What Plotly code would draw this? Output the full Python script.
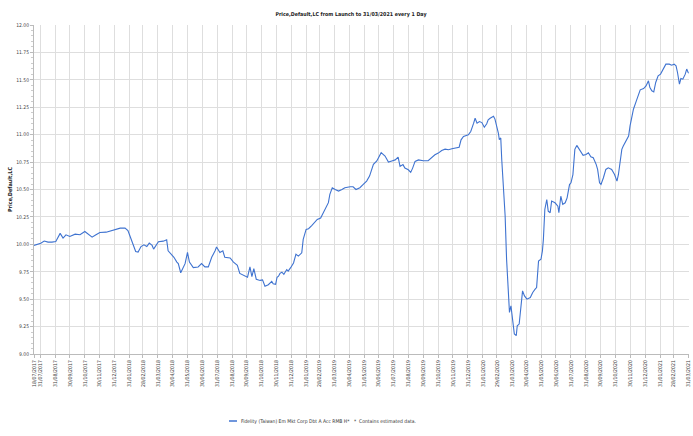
import pandas as pd
import plotly.graph_objects as go

launch_date = "2017-07-18"
series_name = "Fidelity (Taiwan) Em Mkt Corp Dbt A Acc RMB H*"

days_since_launch = [0, 14, 21, 29, 37, 45, 54, 60, 66, 74, 85, 95, 105, 112, 120, 128, 136, 149, 157, 167,
    178, 188, 194, 198, 204, 210, 215, 221, 227, 233, 238, 244, 247, 254, 257, 267, 274, 277, 284, 289,
    295, 298, 303, 308, 312, 317, 321, 329, 339, 346, 353, 360, 367, 374, 377, 384, 390, 394, 405, 412,
    420, 425, 432, 441, 446, 450, 454, 459, 467, 472, 477, 484, 491, 494, 499, 502, 505, 508, 512, 516,
    522, 525, 530, 536, 541, 546, 553, 556, 562, 567, 574, 580, 585, 592, 598, 601, 605, 608, 611, 616,
    622, 629, 636, 642, 653, 659, 665, 673, 680, 687, 693, 701, 708, 717, 725, 732, 739, 746, 752, 756,
    762, 766, 773, 778, 782, 787, 794, 804, 814, 821, 828, 835, 842, 849, 856, 863, 873, 878, 882, 887,
    897, 902, 908, 911, 915, 920, 925, 930, 935, 938, 942, 949, 952, 956, 959, 961, 964, 966, 968, 969,
    973, 976, 979, 981, 982, 985, 987, 989, 992, 996, 998, 1002, 1006, 1009, 1013, 1018, 1025, 1030, 1035, 1038,
    1042, 1047, 1050, 1052, 1055, 1059, 1062, 1066, 1069, 1076, 1082, 1084, 1088, 1092, 1097, 1101, 1106, 1109, 1113, 1117,
    1121, 1124, 1129, 1134, 1140, 1145, 1150, 1155, 1161, 1164, 1168, 1171, 1176, 1181, 1186, 1193, 1199, 1204, 1207, 1210,
    1214, 1217, 1223, 1228, 1231, 1235, 1238, 1244, 1249, 1252, 1259, 1264, 1269, 1272, 1276, 1280, 1284, 1289, 1294, 1299,
    1305, 1312, 1317, 1322, 1326, 1329, 1333, 1336, 1340, 1345, 1348, 1351, 1352]

prices = [9.99, 10.01, 10.03, 10.02, 10.02, 10.026, 10.10, 10.057, 10.087, 10.072, 10.093, 10.087, 10.117, 10.096, 10.065, 10.087, 10.108, 10.111, 10.123, 10.138,
    10.148, 10.148, 10.126, 10.078, 10.011, 9.935, 9.929, 9.98, 9.995, 9.98, 10.011, 9.99, 9.956, 10.011, 10.024, 10.029, 10.041, 9.941, 9.912, 9.882,
    9.838, 9.824, 9.741, 9.794, 9.824, 9.926, 9.838, 9.788, 9.794, 9.824, 9.794, 9.794, 9.882, 9.941, 9.976, 9.926, 9.941, 9.882, 9.876, 9.838,
    9.809, 9.735, 9.721, 9.70, 9.794, 9.706, 9.779, 9.682, 9.671, 9.676, 9.618, 9.632, 9.662, 9.64, 9.635, 9.70, 9.71, 9.735, 9.746, 9.726,
    9.77, 9.756, 9.787, 9.83, 9.91, 9.893, 9.923, 10.045, 10.136, 10.142, 10.173, 10.203, 10.227, 10.24, 10.288, 10.318, 10.35, 10.38, 10.455, 10.516,
    10.50, 10.486, 10.50, 10.516, 10.525, 10.525, 10.50, 10.516, 10.546, 10.577, 10.622, 10.729, 10.76, 10.836, 10.805, 10.75, 10.76, 10.77, 10.795, 10.71,
    10.727, 10.695, 10.68, 10.656, 10.695, 10.756, 10.77, 10.762, 10.762, 10.786, 10.817, 10.832, 10.856, 10.868, 10.862, 10.871, 10.877, 10.886, 10.953, 10.983,
    10.998, 11.029, 11.105, 11.15, 11.105, 11.12, 11.11, 11.068, 11.10, 11.135, 11.15, 11.167, 11.142, 11.076, 11.015, 10.955, 10.97, 10.773, 10.606, 10.59,
    10.26, 9.864, 9.59, 9.485, 9.379, 9.44, 9.348, 9.258, 9.182, 9.167, 9.258, 9.273, 9.439, 9.576, 9.53, 9.50, 9.515, 9.561, 9.591, 9.606,
    9.848, 9.864, 9.939, 10.045, 10.318, 10.409, 10.303, 10.288, 10.394, 10.379, 10.348, 10.288, 10.439, 10.364, 10.379, 10.424, 10.545, 10.561, 10.636, 10.866,
    10.902, 10.881, 10.835, 10.811, 10.82, 10.835, 10.799, 10.79, 10.729, 10.683, 10.561, 10.546, 10.607, 10.683, 10.698, 10.683, 10.637, 10.576, 10.637, 10.744,
    10.866, 10.896, 10.942, 10.988, 11.08, 11.171, 11.232, 11.308, 11.384, 11.409, 11.421, 11.445, 11.491, 11.43, 11.40, 11.39, 11.476, 11.537, 11.552, 11.598,
    11.643, 11.643, 11.634, 11.643, 11.628, 11.567, 11.46, 11.512, 11.506, 11.552, 11.598, 11.567, 11.56]

tick_labels = ["18/07/2017", "31/07/2017", "31/08/2017", "30/09/2017", "31/10/2017", "30/11/2017", "31/12/2017",
    "31/01/2018", "28/02/2018", "31/03/2018", "30/04/2018", "31/05/2018", "30/06/2018", "31/07/2018", "31/08/2018",
    "30/09/2018", "31/10/2018", "30/11/2018", "31/12/2018", "31/01/2019", "28/02/2019", "31/03/2019", "30/04/2019",
    "31/05/2019", "30/06/2019", "31/07/2019", "31/08/2019", "30/09/2019", "31/10/2019", "30/11/2019", "31/12/2019",
    "31/01/2020", "29/02/2020", "31/03/2020", "30/04/2020", "31/05/2020", "30/06/2020", "31/07/2020", "31/08/2020",
    "30/09/2020", "31/10/2020", "30/11/2020", "31/12/2020", "31/01/2021", "28/02/2021", "31/03/2021"]

y_ticks = [9.00, 9.25, 9.50, 9.75, 10.00, 10.25, 10.50, 10.75, 11.00, 11.25, 11.50, 11.75, 12.00]

dates = pd.Timestamp(launch_date) + pd.to_timedelta(days_since_launch, unit="D")
tick_vals = pd.to_datetime(tick_labels, format="%d/%m/%Y")

FONT = "DejaVu Sans Condensed, DejaVu Sans, sans-serif"
GRID = "#dedede"
LINE = "#3f73d0"

fig = go.Figure()
fig.add_trace(go.Scatter(x=dates, y=prices, mode="lines", name=series_name,
                         line=dict(color=LINE, width=1.1), showlegend=False))

fig.update_layout(
    width=693, height=436,
    margin=dict(l=34, r=4, t=25, b=82),
    paper_bgcolor="white", plot_bgcolor="white",
    font=dict(family=FONT, size=5, color="#333333"),
    title=dict(text="<b>Price,Default,LC from Launch to 31/03/2021 every 1 Day</b>",
               x=351 / 693, xref="container", xanchor="center",
               y=1 - 14 / 436, yref="container", yanchor="middle",
               font=dict(family=FONT, size=5.3, color="#222222")),
)
fig.update_xaxes(
    type="date", range=[tick_vals[0], tick_vals[-1] + pd.Timedelta(hours=18)],
    tickmode="array", tickvals=tick_vals, ticktext=tick_labels, tickangle=-90,
    tickfont=dict(size=5.2, color="#444444"),
    showgrid=True, gridcolor=GRID, gridwidth=1,
    showline=True, linecolor="#bbbbbb", linewidth=1,
    ticks="outside", ticklen=3, tickcolor="#bbbbbb",
    zeroline=False, automargin=False,
)
fig.update_yaxes(
    range=[9, 12], tickmode="array", tickvals=y_ticks,
    ticktext=[f"{v:.2f}" for v in y_ticks],
    tickfont=dict(size=5, color="#444444"),
    showgrid=True, gridcolor=GRID, gridwidth=1,
    showline=True, linecolor="#bbbbbb", linewidth=1,
    ticks="outside", ticklen=3, tickcolor="#bbbbbb",
    minor=dict(dtick=0.05, ticks="outside", ticklen=2, tickcolor="#cccccc", showgrid=False),
    zeroline=False, automargin=False,
    title=dict(text="<b>Price,Default,LC</b>", font=dict(family=FONT, size=5.5, color="#222222"), standoff=3),
)

# legend drawn as key line + labels below the plot
leg_y = (354 - 421) / 329
fig.add_shape(type="line", xref="paper", yref="paper",
              x0=(229 - 34) / 655, x1=(237 - 34) / 655, y0=leg_y, y1=leg_y,
              line=dict(color=LINE, width=1.5))
fig.add_annotation(xref="paper", yref="paper", x=(239 - 34) / 655, y=leg_y,
                   xanchor="left", yanchor="middle", showarrow=False,
                   text=series_name, font=dict(family=FONT, size=5, color="#333333"))
fig.add_annotation(xref="paper", yref="paper", x=(352 - 34) / 655, y=leg_y,
                   xanchor="left", yanchor="middle", showarrow=False,
                   text="*  Contains estimated data.", font=dict(family=FONT, size=5, color="#333333"))

fig.write_html("out.html", config={"displayModeBar": False},
               post_script="document.body.style.margin='0';document.body.style.overflow='hidden';")
